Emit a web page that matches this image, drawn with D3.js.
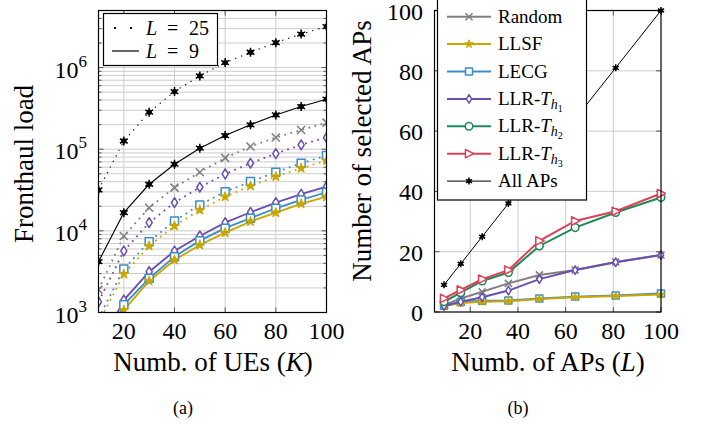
<!doctype html>
<html>
<head>
<meta charset="utf-8">
<title>Fronthaul load and selected APs</title>
<script src="https://cdnjs.cloudflare.com/ajax/libs/d3/7.8.5/d3.min.js"></script>
<style>
  body { margin: 0; background: #fff; }
  svg text { font-family: 'Liberation Serif', 'Times New Roman', serif; fill: #000; }
</style>
</head>
<body>
<div id="chart"></div>
<script>
  //******************
  // Data (a): fronthaul load vs. number of UEs
  //******************
  var ues = [10, 20, 30, 40, 50, 60, 70, 80, 90, 100];
  var allAps25 = [31700, 126000, 284000, 508000, 791000, 1150000, 1540000, 2020000, 2570000, 3180000];
  var random25 = [1900, 8660, 19200, 33800, 52300, 78200, 108000, 139000, 172000, 212000];
  var llrTh1_25 = [1350, 5670, 12600, 22200, 34200, 49800, 67300, 88300, 113000, 139000];
  var lecg25 = [850, 3410, 7370, 13200, 20800, 30200, 40100, 52300, 67300, 83500];
  var llsf25 = [740, 2960, 6530, 11500, 18000, 26200, 35500, 46200, 58500, 72500];
  var allAps9 = [4190, 16700, 37200, 65500, 103000, 147000, 199000, 263000, 333000, 410000];
  var llrTh1_9 = [355, 1420, 3160, 5670, 8660, 12600, 16900, 22200, 28100, 34800];
  var lecg9 = [310, 1240, 2620, 4830, 7590, 10800, 14300, 18900, 23900, 29700];
  var llsf9 = [270, 1070, 2430, 4400, 6710, 9500, 13000, 16700, 21400, 26200];
  var xTicksA = [20, 40, 60, 80, 100];
  var yTicksA = [1e3, 1e4, 1e5, 1e6];

  //******************
  // Data (b): number of selected APs vs. number of APs
  //******************
  var aps = [9, 16, 25, 36, 49, 64, 81, 100];
  var selRandom = [2.3, 4.5, 6.7, 9.5, 12.3, 13.9, 16.6, 18.9];
  var selLecg = [2.1, 3.3, 3.7, 3.8, 4.5, 5.1, 5.5, 6.1];
  var selLlsf = [2.0, 3.0, 3.4, 3.6, 4.3, 4.9, 5.3, 5.8];
  var selTh1 = [2.0, 3.4, 4.9, 7.1, 10.9, 13.9, 16.5, 18.9];
  var selTh2 = [3.4, 6.4, 10.3, 13.1, 21.9, 28.0, 33.0, 38.0];
  var selTh3 = [4.5, 7.3, 10.9, 13.9, 23.6, 30.2, 33.4, 39.3];
  var selAll = [9, 16, 25, 36, 49, 64, 81, 100];
  var xTicksB = [20, 40, 60, 80, 100];
  var yTicksB = [0, 20, 40, 60, 80, 100];

  var colors = {
    random: '#808080', llsf: '#c9a700', lecg: '#3a8dc8',
    th1: '#6a4fb0', th2: '#1a8a58', th3: '#df4058', all: '#000000'
  };

  var width = 701, height = 431;
  var svg = d3.select('#chart').append('svg').attr('width', width).attr('height', height);
  var defs = svg.append('defs');

  // marker shapes, s = half size
  function markPath(type, s) {
    if (type == 'x') return `M${-s},${-s}L${s},${s}M${-s},${s}L${s},${-s}`;
    if (type == 'square') return `M${-s},${-s}H${s}V${s}H${-s}Z`;
    if (type == 'diamond') return `M0,${-s * 1.3}L${s * 0.8},0L0,${s * 1.3}L${-s * 0.8},0Z`;
    if (type == 'circle') return d3.symbol(d3.symbolCircle, Math.PI * s * s)();
    if (type == 'triangle') return `M${s * 1.2},0L${-s * 0.9},${-s * 1.05}L${-s * 0.9},${s * 1.05}Z`;
    if (type == 'star') return d3.symbol(d3.symbolStar, s * s / 0.8908)();
    if (type == 'asterisk') {
      var p = '';
      for (var k = 0; k < 3; k++) {
        var a = Math.PI / 2 + k * Math.PI / 3;
        p += `M${-s * Math.cos(a)},${-s * Math.sin(a)}L${s * Math.cos(a)},${s * Math.sin(a)}`;
      }
      return p;
    }
  }

  function drawMarks(g, pts, type, color, s) {
    var filled = (type == 'star');
    g.append('g').selectAll('path').data(pts).join('path')
      .attr('transform', d => `translate(${d[0]},${d[1]})`)
      .attr('d', markPath(type, s))
      .attr('stroke', color)
      .attr('stroke-width', type == 'x' ? 1.6 : (type == 'star' ? 1 : 1.5))
      .attr('stroke-linejoin', 'round')
      .attr('fill', filled ? color : (type == 'x' ? 'none' : '#fff'));
    if (type == 'asterisk') {
      g.append('g').selectAll('circle').data(pts).join('circle')
        .attr('cx', d => d[0]).attr('cy', d => d[1])
        .attr('r', s * 0.6).attr('fill', color);
    }
  }

  function frame(g, x, y) {
    var r = [x.range(), y.range()];
    g.append('rect')
      .attr('x', r[0][0]).attr('y', r[1][1])
      .attr('width', r[0][1] - r[0][0]).attr('height', r[1][0] - r[1][1])
      .attr('fill', 'none').attr('stroke', '#000').attr('stroke-width', 1.2);
  }

  //******************
  // Panel (a)
  //******************
  var ax = d3.scaleLinear().domain([10, 100]).range([98.5, 326.5]);
  var ay = d3.scaleLog().domain([1e3, 5e6]).range([312.5, 10.5]);
  var gA = svg.append('g');

  defs.append('clipPath').attr('id', 'clipA').append('rect')
    .attr('x', 98.5).attr('y', 10.5).attr('width', 228).attr('height', 302);

  var yMinorA = ay.ticks().filter(v => v > 1e3 && v < 5e6);

  // grid
  gA.append('g').selectAll('line').data(yMinorA).join('line')
    .attr('x1', ax.range()[0]).attr('x2', ax.range()[1])
    .attr('y1', d => ay(d)).attr('y2', d => ay(d))
    .attr('stroke', '#cdcdcd').attr('stroke-width', 1);
  gA.append('g').selectAll('line').data(xTicksA.slice(0, 4)).join('line')
    .attr('x1', d => ax(d)).attr('x2', d => ax(d))
    .attr('y1', ay.range()[0]).attr('y2', ay.range()[1])
    .attr('stroke', '#cdcdcd').attr('stroke-width', 1);

  // inner ticks
  gA.append('g').selectAll('path').data(yMinorA).join('path')
    .attr('d', d => {
      var len = yTicksA.indexOf(d) >= 0 ? 5 : 3;
      return `M${ax.range()[0]},${ay(d)}h${len}M${ax.range()[1]},${ay(d)}h${-len}`;
    })
    .attr('stroke', '#555').attr('stroke-width', 1);
  gA.append('g').selectAll('path').data(xTicksA).join('path')
    .attr('d', d => `M${ax(d)},${ay.range()[0]}v-5M${ax(d)},${ay.range()[1]}v5`)
    .attr('stroke', '#555').attr('stroke-width', 1);

  var lineA = vals => d3.line().x((d, i) => ax(ues[i])).y(d => ay(d))(vals);
  var ptsA = vals => vals.map((v, i) => [ax(ues[i]), ay(v)]);

  var seriesA = [
    { vals: random25, color: colors.random, mark: 'x', dotted: true },
    { vals: llrTh1_25, color: colors.th1, mark: 'diamond', dotted: true },
    { vals: lecg25, color: colors.lecg, mark: 'square', dotted: true },
    { vals: llsf25, color: colors.llsf, mark: 'star', dotted: true },
    { vals: allAps25, color: colors.all, mark: 'asterisk', dotted: true },
    { vals: llrTh1_9, color: colors.th1, mark: 'diamond', dotted: false },
    { vals: lecg9, color: colors.lecg, mark: 'square', dotted: false },
    { vals: llsf9, color: colors.llsf, mark: 'star', dotted: false },
    { vals: allAps9, color: colors.all, mark: 'asterisk', dotted: false }
  ];

  var plotA = gA.append('g').attr('clip-path', 'url(#clipA)');
  seriesA.forEach(s => {
    var black = s.color == '#000000';
    plotA.append('path').attr('d', lineA(s.vals))
      .attr('fill', 'none').attr('stroke', s.color)
      .attr('stroke-width', black ? 1.1 : 1.8)
      .attr('stroke-dasharray', s.dotted ? (black ? '1.3 5' : '1.8 4.5') : null);
  });
  seriesA.forEach(s => {
    var sz = { x: 4, diamond: 3.8, square: 4, star: 5.2, asterisk: 4.5 }[s.mark];
    drawMarks(plotA, ptsA(s.vals), s.mark, s.color, sz);
  });

  frame(gA, ax, ay);

  // tick labels
  gA.append('g').selectAll('text').data(xTicksA).join('text')
    .attr('x', d => ax(d)).attr('y', 339)
    .attr('text-anchor', 'middle').attr('font-size', 24)
    .text(d => d);
  var yl = gA.append('g').selectAll('text').data(yTicksA).join('text')
    .attr('x', 87).attr('y', d => ay(d) + 10)
    .attr('text-anchor', 'end').attr('font-size', 24);
  yl.append('tspan').text('10');
  yl.append('tspan').attr('font-size', 17).attr('dy', -11).text(d => Math.round(Math.log10(d)));

  // axis titles
  var tA = gA.append('text').attr('x', 213).attr('y', 371)
    .attr('text-anchor', 'middle').attr('font-size', 27);
  tA.append('tspan').text('Numb. of UEs (');
  tA.append('tspan').attr('font-style', 'italic').text('K');
  tA.append('tspan').text(')');
  gA.append('text').attr('transform', 'translate(33,164) rotate(-90)')
    .attr('text-anchor', 'middle').attr('font-size', 27)
    .text('Fronthaul load');
  gA.append('text').attr('x', 183).attr('y', 414)
    .attr('text-anchor', 'middle').attr('font-size', 18).text('(a)');

  // legend (a)
  var legA = gA.append('g');
  legA.append('rect').attr('x', 103.5).attr('y', 13.5).attr('width', 114).attr('height', 52)
    .attr('fill', '#fff').attr('stroke', '#000').attr('stroke-width', 1.2);
  [['25', true, 28], ['9', false, 51]].forEach(e => {
    legA.append('line').attr('x1', 112).attr('x2', 139).attr('y1', e[2]).attr('y2', e[2])
      .attr('stroke', '#000').attr('stroke-width', e[1] ? 2 : 1.2)
      .attr('stroke-dasharray', e[1] ? '2 14' : null)
      .attr('stroke-dashoffset', e[1] ? -2 : null);
    legA.append('text').attr('x', 146).attr('y', e[2] + 7).attr('font-size', 20)
      .attr('font-style', 'italic').text('L');
    legA.append('text').attr('x', 167).attr('y', e[2] + 7).attr('font-size', 20).text('=');
    legA.append('text').attr('x', 189).attr('y', e[2] + 7).attr('font-size', 20).text(e[0]);
  });

  //******************
  // Panel (b)
  //******************
  var bx = d3.scaleLinear().domain([5, 100]).range([434.5, 661]);
  var by = d3.scaleLinear().domain([0, 100]).range([312, 10.5]);
  var gB = svg.append('g');

  defs.append('clipPath').attr('id', 'clipB').append('rect')
    .attr('x', 430).attr('y', 5).attr('width', 236).attr('height', 312);

  gB.append('g').selectAll('line').data(yTicksB.slice(1, 5)).join('line')
    .attr('x1', bx.range()[0]).attr('x2', bx.range()[1])
    .attr('y1', d => by(d)).attr('y2', d => by(d))
    .attr('stroke', '#cdcdcd').attr('stroke-width', 1);
  gB.append('g').selectAll('line').data(xTicksB.slice(0, 4)).join('line')
    .attr('x1', d => bx(d)).attr('x2', d => bx(d))
    .attr('y1', by.range()[0]).attr('y2', by.range()[1])
    .attr('stroke', '#cdcdcd').attr('stroke-width', 1);
  gB.append('g').selectAll('path').data(yTicksB).join('path')
    .attr('d', d => `M${bx.range()[0]},${by(d)}h5M${bx.range()[1]},${by(d)}h-5`)
    .attr('stroke', '#555');
  gB.append('g').selectAll('path').data(xTicksB).join('path')
    .attr('d', d => `M${bx(d)},${by.range()[0]}v-5M${bx(d)},${by.range()[1]}v5`)
    .attr('stroke', '#555');

  var seriesB = [
    { name: 'Random', vals: selRandom, color: colors.random, mark: 'x' },
    { name: 'LECG', vals: selLecg, color: colors.lecg, mark: 'square' },
    { name: 'LLSF', vals: selLlsf, color: colors.llsf, mark: 'star' },
    { name: 'LLR-Th1', sub: '1', vals: selTh1, color: colors.th1, mark: 'diamond' },
    { name: 'LLR-Th2', sub: '2', vals: selTh2, color: colors.th2, mark: 'circle' },
    { name: 'LLR-Th3', sub: '3', vals: selTh3, color: colors.th3, mark: 'triangle' },
    { name: 'All APs', vals: selAll, color: colors.all, mark: 'asterisk' }
  ];
  var sizeB = { x: 3.5, square: 3.5, star: 4.3, diamond: 3.3, circle: 3.8, triangle: 4, asterisk: 3.5 };

  var plotB = gB.append('g').attr('clip-path', 'url(#clipB)');
  seriesB.forEach(s => {
    plotB.append('path')
      .attr('d', d3.line().x((d, i) => bx(aps[i])).y(d => by(d))(s.vals))
      .attr('fill', 'none').attr('stroke', s.color)
      .attr('stroke-width', s.color == '#000000' ? 1 : 2);
    drawMarks(plotB, s.vals.map((v, i) => [bx(aps[i]), by(v)]), s.mark, s.color, sizeB[s.mark]);
  });

  frame(gB, bx, by);

  gB.append('g').selectAll('text').data(xTicksB).join('text')
    .attr('x', d => bx(d)).attr('y', 339)
    .attr('text-anchor', 'middle').attr('font-size', 24)
    .text(d => d);
  gB.append('g').selectAll('text').data(yTicksB).join('text')
    .attr('x', 423).attr('y', d => by(d) + 9)
    .attr('text-anchor', 'end').attr('font-size', 24)
    .text(d => d);

  var tB = gB.append('text').attr('x', 548).attr('y', 371)
    .attr('text-anchor', 'middle').attr('font-size', 27);
  tB.append('tspan').text('Numb. of APs (');
  tB.append('tspan').attr('font-style', 'italic').text('L');
  tB.append('tspan').text(')');
  gB.append('text').attr('transform', 'translate(371,151) rotate(-90)')
    .attr('text-anchor', 'middle').attr('font-size', 27)
    .text('Number of selected APs');
  gB.append('text').attr('x', 518).attr('y', 414)
    .attr('text-anchor', 'middle').attr('font-size', 18).text('(b)');

  // legend (b), in the order of the picture
  var legOrder = ['Random', 'LLSF', 'LECG', 'LLR-Th1', 'LLR-Th2', 'LLR-Th3', 'All APs'];
  var legB = gB.append('g');
  legB.append('rect').attr('x', 437.5).attr('y', -1).attr('width', 149).attr('height', 201)
    .attr('fill', '#fff').attr('stroke', '#000').attr('stroke-width', 1.2);
  legOrder.forEach((n, i) => {
    var s = seriesB.find(d => d.name == n);
    var yy = 16.7 + i * 27.4;
    legB.append('line').attr('x1', 447).attr('x2', 491).attr('y1', yy).attr('y2', yy)
      .attr('stroke', s.color).attr('stroke-width', s.color == '#000000' ? 1 : 2);
    drawMarks(legB, [[469, yy]], s.mark, s.color, sizeB[s.mark]);
    var t = legB.append('text').attr('x', 498).attr('y', yy + 6).attr('font-size', 19);
    if (s.sub) {
      t.append('tspan').text('LLR-');
      t.append('tspan').attr('font-style', 'italic').text('T');
      t.append('tspan').attr('font-style', 'italic').attr('font-size', 14).attr('dy', 4).text('h');
      t.append('tspan').attr('font-size', 10).attr('dy', 3).text(s.sub);
    } else {
      t.text(n);
    }
  });
</script>
</body>
</html>
